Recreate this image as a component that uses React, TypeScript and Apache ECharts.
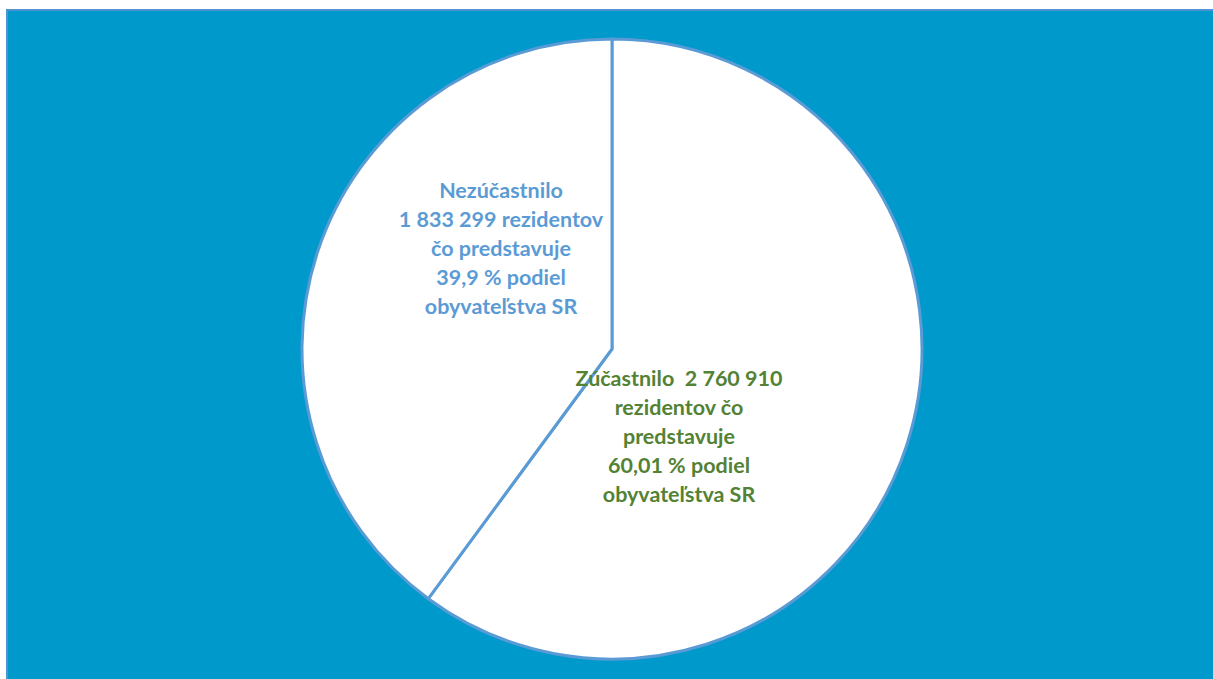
import React, { useEffect, useRef } from "react";
import * as echarts from "echarts";

const names = ["Zúčastnilo", "Nezúčastnilo"];
const values = [2760910, 1833299];
const shares = ["60,01", "39,9"];
const labelColors = ["#548235", "#5B9BD5"];
const labelCenters = [
  [679, 436],
  [501, 248],
];

function fmt(n: number) {
  return String(n).replace(/\B(?=(\d{3})+(?!\d))/g, " ");
}

function labelText(i: number) {
  if (i === 0) {
    return [
      `${names[0]}  ${fmt(values[0])}`,
      "rezidentov čo",
      "predstavuje",
      `${shares[0]} % podiel`,
      "obyvateľstva SR",
    ].join("\n");
  }
  return [
    names[1],
    `${fmt(values[1])} rezidentov`,
    "čo predstavuje",
    `${shares[1]} % podiel`,
    "obyvateľstva SR",
  ].join("\n");
}

export default function App() {
  const ref = useRef<HTMLDivElement>(null);
  useEffect(() => {
    document.body.style.margin = "0";
    const chart = echarts.init(ref.current!, undefined, { renderer: "svg" });
    chart.setOption({
      animation: false,
      backgroundColor: "#ffffff",
      graphic: [
        {
          type: "rect",
          z: -10,
          shape: { x: 7, y: 10, width: 1220, height: 690 },
          style: { fill: "#0099CC", stroke: "#4F93D2", lineWidth: 2 },
        },
      ],
      series: [
        {
          type: "pie",
          center: [612, 349],
          radius: 310,
          startAngle: 90,
          clockwise: true,
          silent: true,
          itemStyle: { color: "#ffffff", borderColor: "#5B9BD5", borderWidth: 3 },
          emphasis: { disabled: true },
          label: {
            show: true,
            position: "inside",
            fontFamily: "Lato",
            fontWeight: "bold",
            fontSize: 21.5,
            lineHeight: 29,
            align: "center",
            formatter: (p: any) => labelText(p.dataIndex),
          },
          labelLine: { show: false },
          labelLayout: (p: any) => ({
            x: labelCenters[p.dataIndex][0],
            y: labelCenters[p.dataIndex][1],
            align: "center",
            verticalAlign: "middle",
          }),
          data: names.map((n, i) => ({
            name: n,
            value: values[i],
            label: { color: labelColors[i] },
          })),
        },
      ],
    });
    return () => chart.dispose();
  }, []);
  return <div ref={ref} style={{ width: 1213, height: 679 }} />;
}
